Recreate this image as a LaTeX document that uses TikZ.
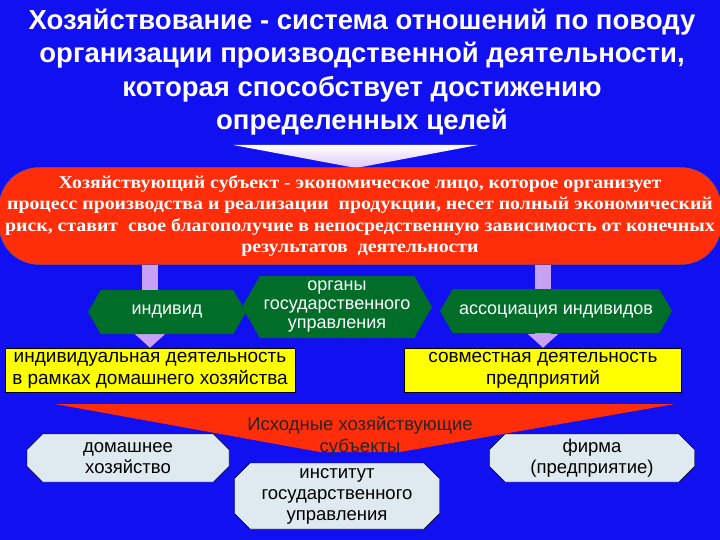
\documentclass[tikz,border=0pt]{standalone}
\usepackage{fontspec}
\setmainfont{Liberation Sans}
\newfontfamily\serifb[FakeStretch=1.1]{Liberation Serif}
\usetikzlibrary{shapes.symbols,shapes.misc,arrows.meta}
\definecolor{bg}{RGB}{16,16,240}
\definecolor{redb}{RGB}{255,45,10}
\definecolor{gr}{RGB}{0,110,40}
\definecolor{lil}{RGB}{200,160,245}
\definecolor{yel}{RGB}{255,255,0}
\definecolor{pale}{RGB}{222,234,240}
\tikzset{
 hexg/.style={signal, signal to=east and west, signal pointer angle=120, fill=gr, text=white, font=\fontsize{18}{19}\selectfont, align=center, inner sep=1pt},
 ybox/.style={fill=yel, draw=black, font=\fontsize{19}{22}\selectfont, align=center, text=black, inner sep=1pt},
 pbox/.style={chamfered rectangle, chamfered rectangle xsep=12pt, fill=pale, draw=black, font=\fontsize{18.5}{21}\selectfont, align=center, inner sep=1pt},
 larr/.style={lil, line width=16pt, -{Triangle[width=30pt,length=14pt]}},
}
\begin{document}
\begin{tikzpicture}[x=1pt,y=-1pt]
\fill[bg] (0,0) rectangle (720,540);
\useasboundingbox (0,0) rectangle (720,540);
\node[text=white, font=\bfseries\fontsize{27.5}{33.5}\selectfont, align=center] (title) at (362,72) {Хозяйствование - система отношений по поводу\\организации производственной деятельности,\\которая способствует достижению\\определенных целей};
\coordinate (tl) at (233,145); \coordinate (tr) at (478,145); \coordinate (tt) at (356,168);
\shade[top color=white, bottom color=lil!60!white] (tl) -- (tr) -- (tt) -- cycle;
\node[fill=redb, draw=black!60, rounded corners=40pt, minimum width=722pt, minimum height=97pt, text=white, align=center, font=\serifb\bfseries\fontsize{18}{21.5}\selectfont, inner sep=0pt] (red) at (360,216) {Хозяйствующий субъект - экономическое лицо, которое организует\\процесс производства и реализации~ продукции, несет полный экономический\\риск, ставит~ свое благополучие в непосредственную зависимость от конечных\\результатов~ деятельности};
\node[ybox, minimum width=290pt, minimum height=44pt] (yl) at (150,370) {индивидуальная деятельность\\в рамках домашнего хозяйства};
\node[ybox, minimum width=277pt, minimum height=44pt] (yr) at (543,370) {совместная деятельность\\предприятий};
\draw[larr] (red.south -| yl) -- (yl.north);
\draw[larr] (red.south -| yr) -- (yr.north);
\node[hexg, minimum width=158pt, minimum height=44pt] (ind) at (167,312) {индивид};
\node[hexg, minimum width=190pt, minimum height=62pt] (org) at (337,307) {органы\\государственного\\управления};
\node[hexg, minimum width=232pt, minimum height=44pt] (ass) at (556,311) {ассоциация индивидов};
\coordinate (f1) at (55,404); \coordinate (f2) at (675,404); \coordinate (f3) at (400,452); \coordinate (f4) at (320,452);
\fill[redb] (f1) -- (f2) -- (f3) -- (f4) -- cycle;
\node[pbox, minimum width=202pt, minimum height=48pt] (dom) at (128,458) {домашнее\\хозяйство};
\node[pbox, minimum width=205pt, minimum height=48pt] (firm) at (592,458) {фирма\\(предприятие)};
\node[pbox, minimum width=205pt, minimum height=66pt] (inst) at (337,496) {институт\\государственного\\управления};
\node[font=\fontsize{18.5}{22}\selectfont, align=center, text=black!85] (src) at (360,437) {Исходные хозяйствующие\\субъекты};
\end{tikzpicture}
\end{document}
